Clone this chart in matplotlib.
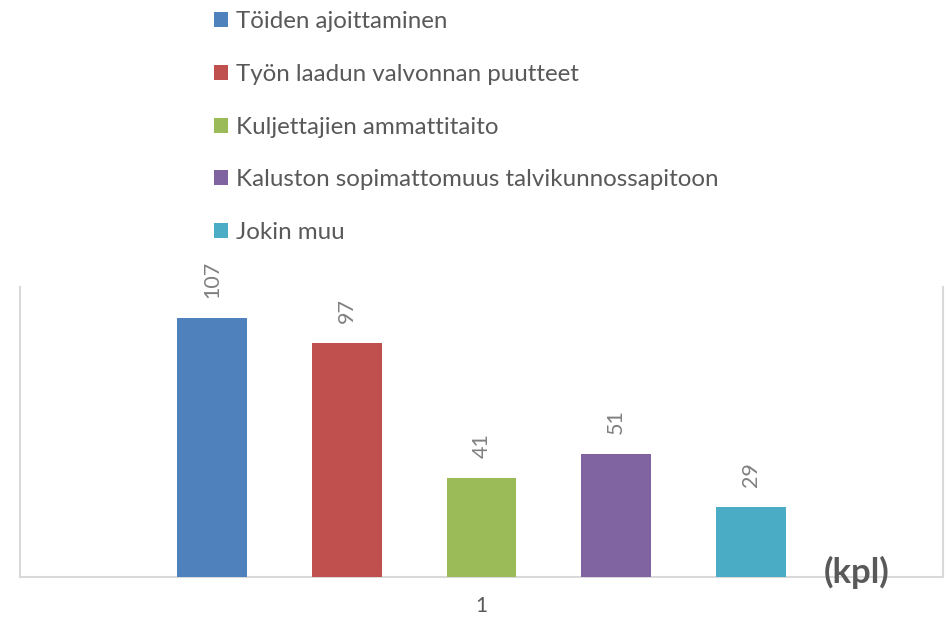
import matplotlib
matplotlib.use("Agg")
import matplotlib.pyplot as plt

categories = ["Töiden ajoittaminen", "Työn laadun valvonnan puutteet", "Kuljettajien ammattitaito",
              "Kaluston sopimattomuus talvikunnossapitoon", "Jokin muu"]
values = [107, 97, 41, 51, 29]
colors = ["#4F81BD", "#C0504D", "#9BBB59", "#8064A2", "#4BACC6"]
xtick_label = "1"
unit_label = "(kpl)"

W, H = 948, 619
fig = plt.figure(figsize=(W / 100, H / 100), dpi=100)
ax = fig.add_axes([20 / W, 1 - 577 / H, (943 - 20) / W, (577 - 287) / H])

font = "Lato"
for i, (v, c, lab) in enumerate(zip(values, colors, categories)):
    ax.bar(i, v, width=0.52, color=c, label=lab, zorder=3)
    ax.annotate(str(v), (i, v), xytext=(0, 20), textcoords="offset pixels",
                rotation=90, ha="center", va="bottom", color="#808080",
                fontsize=15.5, family=font)

ax.set_xlim(-1.43, 5.43)
ax.set_ylim(0, 120)
ax.set_yticks([])
ax.set_xticks([2])
ax.set_xticklabels([xtick_label], fontsize=15, color="#595959", family=font)
ax.tick_params(axis="x", length=0, pad=14)
for s in ["left", "right", "bottom"]:
    ax.spines[s].set_color("#D9D9D9")
    ax.spines[s].set_linewidth(1.5)
ax.spines["top"].set_visible(False)

fig.text(857 / W, 1 - 572 / H, unit_label, ha="center", va="center", fontsize=25,
         fontweight="bold", color="#595959", family=font)

leg = ax.legend(loc="upper left", bbox_to_anchor=(207 / W, 1 - 4 / H), bbox_transform=fig.transFigure,
                frameon=False, handlelength=0.58, handleheight=0.58,
                handletextpad=0.33, labelspacing=1.31, borderaxespad=0, borderpad=0.3,
                prop={"family": font, "size": 17.4})
for t in leg.get_texts():
    t.set_color("#595959")

fig.savefig("out.png", dpi=100)
